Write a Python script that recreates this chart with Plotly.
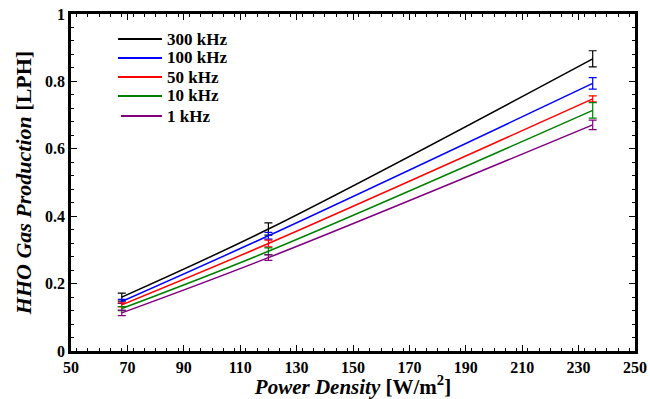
import plotly.graph_objects as go

power_density = [68, 120, 235]
series_names = ["300 kHz", "100 kHz", "50 kHz", "10 kHz", "1 kHz"]
colors = ["#000000", "#0000FF", "#FF0000", "#008000", "#800080"]
hho_300 = [0.160, 0.362, 0.867]
hho_100 = [0.147, 0.342, 0.794]
hho_50 = [0.137, 0.319, 0.748]
hho_10 = [0.126, 0.296, 0.714]
hho_1 = [0.113, 0.277, 0.671]
err_300 = [0.012, 0.018, 0.024]
err_100 = [0.006, 0.010, 0.017]
err_50 = [0.006, 0.010, 0.009]
err_10 = [0.006, 0.010, 0.023]
err_1 = [0.008, 0.008, 0.014]

x_ticks = list(range(50, 251, 20))
y_ticks = [0, 0.2, 0.4, 0.6, 0.8, 1]
y_tick_labels = ["0", "0.2", "0.4", "0.6", "0.8", "1"]

values = [hho_300, hho_100, hho_50, hho_10, hho_1]
errors = [err_300, err_100, err_50, err_10, err_1]

FONT = "Liberation Serif, Times New Roman, serif"
W, H = 650, 399
ML, MR, MT, MB = 71, 15, 14, 48
PW, PH = W - ML - MR, H - MT - MB

fig = go.Figure()
for name, col, v, e in zip(series_names, colors, values, errors):
    fig.add_trace(go.Scatter(
        x=power_density, y=v, name=name, mode="lines", showlegend=False,
        line=dict(color=col, width=1.5, shape="spline"),
        error_y=dict(type="data", array=e, visible=True, color=col,
                     thickness=1.2, width=4),
    ))

# Manual legend (line samples + labels), placed in paper coordinates
def px_to_paper_x(px):
    return (px - ML) / PW

def px_to_paper_y(py):
    return (H - MB - py) / PH

legend_rows_y = [39, 58, 77, 96, 116]
for i, (name, col) in enumerate(zip(series_names, colors)):
    yy = px_to_paper_y(legend_rows_y[i])
    x0 = 118 if i < 4 else 121
    fig.add_shape(type="line", xref="paper", yref="paper",
                  x0=px_to_paper_x(x0), x1=px_to_paper_x(162), y0=yy, y1=yy,
                  line=dict(color=col, width=2))
    fig.add_annotation(xref="paper", yref="paper", x=px_to_paper_x(165), y=yy,
                       xanchor="left", yanchor="middle", showarrow=False,
                       text=name,
                       font=dict(family=FONT, size=17, color="black", weight="bold"))

axis_common = dict(
    showline=True, linecolor="black", linewidth=2.5, mirror="ticks",
    ticks="inside", ticklen=6, tickwidth=1, tickcolor="black",
    showgrid=False, zeroline=False, automargin=False,
    tickfont=dict(family=FONT, size=16, color="black", weight="bold"),
)

fig.update_layout(
    width=W, height=H,
    margin=dict(l=ML, r=MR, t=MT, b=MB),
    plot_bgcolor="white", paper_bgcolor="white",
    font=dict(family=FONT, color="black"),
    showlegend=False,
    xaxis=dict(
        range=[50, 250], tickvals=x_ticks,
        minor=dict(dtick=4, ticks="inside", ticklen=3, tickcolor="black", tickwidth=1),
        title=dict(text="<i>Power Density</i> [W/m<sup>2</sup>]",
                   font=dict(family=FONT, size=21, color="black", weight="bold"),
                   standoff=5),
        **axis_common,
    ),
    yaxis=dict(
        range=[0, 1], tickvals=y_ticks, ticktext=y_tick_labels,
        minor=dict(dtick=0.04, ticks="inside", ticklen=3, tickcolor="black", tickwidth=1),
        title=dict(text="<i>HHO Gas Production</i> [LPH]",
                   font=dict(family=FONT, size=22, color="black", weight="bold"),
                   standoff=8),
        **axis_common,
    ),
)

fig.write_html("out.html")
